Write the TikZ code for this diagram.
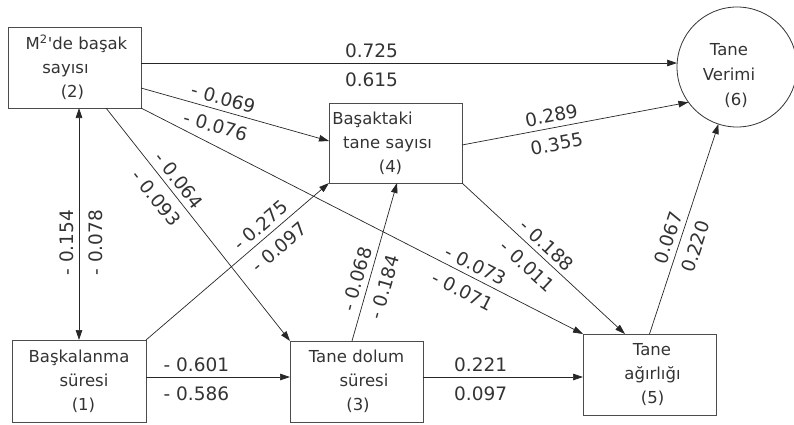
\documentclass[tikz,border=0pt]{standalone}
\usepackage{fontspec}
\newfontfamily\dv{DejaVu Sans}
\usetikzlibrary{arrows.meta,calc}
\newcommand{\padr}[1]{\rule{#1}{0pt}}
\begin{document}
\begin{tikzpicture}[x=1pt,y=-1pt,
  box/.style={draw=black!70, line width=0.9pt, minimum width=133pt, minimum height=81pt,
    text width=133pt, inner sep=0pt, outer sep=0pt, align=center,
    font=\dv\fontsize{16.5}{24}\selectfont, text=black!80},
  tip/.tip={Triangle[length=10pt,width=6.5pt]},
  arr/.style={draw=black!85, line width=0.7pt, -tip},
  lab/.style={sloped, inner sep=1pt, font=\dv\fontsize{18.5}{20}\selectfont, text=black!80},
  la/.style={lab, above=4pt},
  lb/.style={lab, below=8pt}]
\useasboundingbox (0,0) rectangle (794,425);
% nodes
\node[box] (b2) at (74.5,67.5) {\hspace*{4pt}M\textsuperscript{2}'de başak\\sayısı\padr{18pt}\\(2)\padr{4pt}};
\node[box, minimum height=80pt] (b4) at (395.5,143) {Başaktaki\padr{46pt}\\tane sayısı\padr{16pt}\\(4)\padr{10pt}};
\node[box, minimum width=134pt, text width=134pt, minimum height=82pt] (b1) at (79,381) {Başkalanma\\\hspace*{10pt}süresi\\\hspace*{9pt}(1)};
\node[box] (b3) at (356.5,381.5) {Tane dolum\\\hspace*{15pt}süresi\\\hspace*{3pt}(3)};
\node[box] (b5) at (649.5,374.5) {\hspace*{5pt}Tane\\\hspace*{6pt}ağırlığı\\\hspace*{6pt}(5)};
\node[draw=black!80, line width=0.8pt, circle, minimum size=120pt, inner sep=0pt, outer sep=0pt] (c6) at (737,67) {};
\node[align=center, font=\dv\fontsize{16.5}{25}\selectfont, text=black!80] (t6) at (729,76) {Tane\\Verimi\\\hspace*{14pt}(6)};
% connectors
\draw[arr] ([yshift=4.5pt]b2.east) coordinate (s1) -- (s1 -| c6.west)
  node[la,pos=.43]{0.725} node[lb,pos=.43]{0.615};
\draw[arr] ([yshift=-20.5pt]b2.east) -- ([yshift=2pt]b4.west)
  node[la,pos=.42]{- 0.069} node[lb,pos=.42]{- 0.076};
\draw[arr] (b2.south east) -- (b5.north west)
  node[la,pos=.745]{- 0.073} node[lb,pos=.745]{- 0.071};
\draw[arr] ([xshift=31.5pt]b2.south) -- (b3.north west)
  node[la,pos=.344]{- 0.064} node[lb,pos=.344]{- 0.093};
\draw[arr, tip-tip] (b1.north) coordinate (s5) -- (s5 |- b2.south)
  node[la,pos=.42]{- 0.154} node[lb,pos=.42]{- 0.078};
\draw[arr] (b1.north east) -- (b4.south west)
  node[la,pos=.67]{- 0.275} node[lb,pos=.67]{- 0.097};
\draw[arr] ([yshift=4pt]b1.east) coordinate (s7) -- (s7 -| b3.west)
  node[la,pos=.35]{- 0.601} node[lb,pos=.35]{- 0.586};
\draw[arr] ([xshift=-4.5pt]b3.north) -- ([xshift=1.5pt]b4.south)
  node[la,pos=.37]{- 0.068} node[lb,pos=.37]{- 0.184};
\draw[arr] ([yshift=4.5pt]b3.east) coordinate (s9) -- (s9 -| b5.west)
  node[la,pos=.36]{0.221} node[lb,pos=.36]{0.097};
\draw[arr] (b4.south east) -- ([xshift=-24.5pt]b5.north)
  node[la,pos=.47]{- 0.188} node[lb,pos=.47]{- 0.011};
\draw[arr] ([yshift=-2pt]b4.east) -- (c6.216)
  node[la,pos=.405]{0.289} node[lb,pos=.405]{0.355};
\draw[arr] (b5.north) -- (c6.252)
  node[la,pos=.44]{0.067} node[lb,pos=.44]{0.220};
\end{tikzpicture}
\end{document}
